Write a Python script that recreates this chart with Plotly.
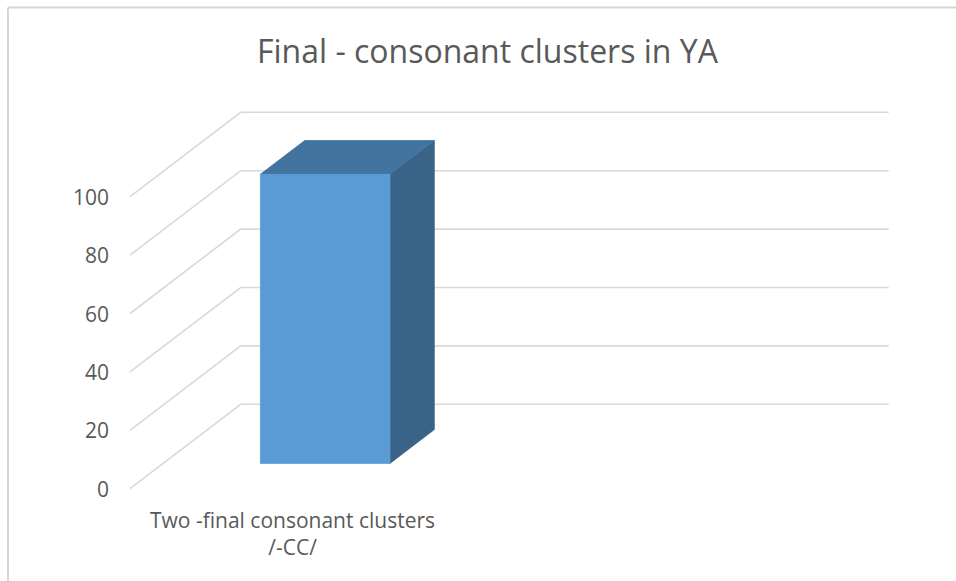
import plotly.graph_objects as go

# ---- data ----
categories = ["Two -final consonant clusters<br>/-CC/", ""]
values = [99, None]
tick_values = [0, 20, 40, 60, 80, 100]
title_text = "Final - consonant clusters in YA"

# ---- style / layout constants ----
W, H = 956, 581
FONT = "Open Sans"
TXT = "#595959"
GRID = "#D9D9D9"
FRONT = "#5B9BD5"
TOP = "#43739F"
SIDE = "#3A6388"

# pixel geometry of the 3D frame
PX0, PY0 = 130.0, 488.7      # front-left corner of the floor (value 0)
SLOT_PX = 324.0              # width of one category slot
PX_PER_UNIT = 2.92           # vertical px per value unit
DEPTH_DX, DEPTH_DY = 110.7, 84.4
GAP_W = 1.5                  # gap width 150%
GAP_D = 1.5                  # gap depth 150%

DU = DEPTH_DX / SLOT_PX
DV = DEPTH_DY / PX_PER_UNIT
n = len(categories)

def proj(u, v, d):
    return u + d * DU, v + d * DV

fig = go.Figure()

# gridlines: front diagonal + back wall horizontal
for t in tick_values:
    pts = [proj(0, t, 0), proj(0, t, 1), proj(n, t, 1)]
    fig.add_trace(go.Scatter(x=[p[0] for p in pts], y=[p[1] for p in pts],
                             mode="lines", line=dict(color=GRID, width=1.6),
                             hoverinfo="skip", showlegend=False))

# bars
bw = 1 / (1 + GAP_W)
bd = 1 / (1 + GAP_D)
for i, val in enumerate(values):
    if val is None:
        continue
    u0 = i + (1 - bw) / 2
    u1 = u0 + bw
    d0 = (1 - bd) / 2
    d1 = d0 + bd
    faces = [
        (SIDE, [(u1, 0, d0), (u1, 0, d1), (u1, val, d1), (u1, val, d0)]),
        (TOP, [(u0, val, d0), (u1, val, d0), (u1, val, d1), (u0, val, d1)]),
        (FRONT, [(u0, 0, d0), (u1, 0, d0), (u1, val, d0), (u0, val, d0)]),
    ]
    for col, corners in faces:
        pts = [proj(*c) for c in corners] + [proj(*corners[0])]
        fig.add_trace(go.Scatter(x=[p[0] for p in pts], y=[p[1] for p in pts],
                                 mode="lines", fill="toself", fillcolor=col,
                                 line=dict(color=col, width=0.8),
                                 hoverinfo="skip", showlegend=False))

# value tick labels at the front-left ends
for t in tick_values:
    x, y = proj(0, t, 0)
    fig.add_annotation(x=x, y=y, xref="x", yref="y", text=str(t),
                       showarrow=False, xanchor="right", yanchor="middle",
                       xshift=-19, font=dict(family=FONT, size=21, color=TXT))

# category labels
for i, c in enumerate(categories):
    if not c:
        continue
    x, y = proj(i + 0.5, 0, 0)
    fig.add_annotation(x=x, y=y, xref="x", yref="y", text=c,
                       showarrow=False, xanchor="center", yanchor="top",
                       yshift=-15, font=dict(family=FONT, size=21, color=TXT))

# title
fig.add_annotation(x=487.5 / W, y=1 - 50 / H, xref="paper", yref="paper",
                   text=title_text, showarrow=False, xanchor="center",
                   yanchor="middle", font=dict(family=FONT, size=32, color=TXT))

# chart border (top and left edges visible in the crop)
border = dict(color="#D6D6D6", width=2)
fig.add_shape(type="line", xref="paper", yref="paper",
              x0=8 / W, x1=1.0, y0=1 - 7.5 / H, y1=1 - 7.5 / H, line=border)
fig.add_shape(type="line", xref="paper", yref="paper",
              x0=8 / W, x1=8 / W, y0=0, y1=1 - 7.5 / H, line=border)

xr = [-PX0 / SLOT_PX, (W - PX0) / SLOT_PX]
yr = [-(H - PY0) / PX_PER_UNIT, PY0 / PX_PER_UNIT]
fig.update_layout(
    width=W, height=H, margin=dict(l=0, r=0, t=0, b=0),
    paper_bgcolor="white", plot_bgcolor="white",
    xaxis=dict(range=xr, visible=False, fixedrange=True),
    yaxis=dict(range=yr, visible=False, fixedrange=True),
    showlegend=False,
)

fig.write_html(
    "out.html",
    config={"displayModeBar": False},
    post_script=(
        "document.documentElement.style.margin='0';"
        "document.documentElement.style.overflow='hidden';"
        "document.body.style.margin='0';"
        "document.body.style.overflow='hidden';"
    ),
)
